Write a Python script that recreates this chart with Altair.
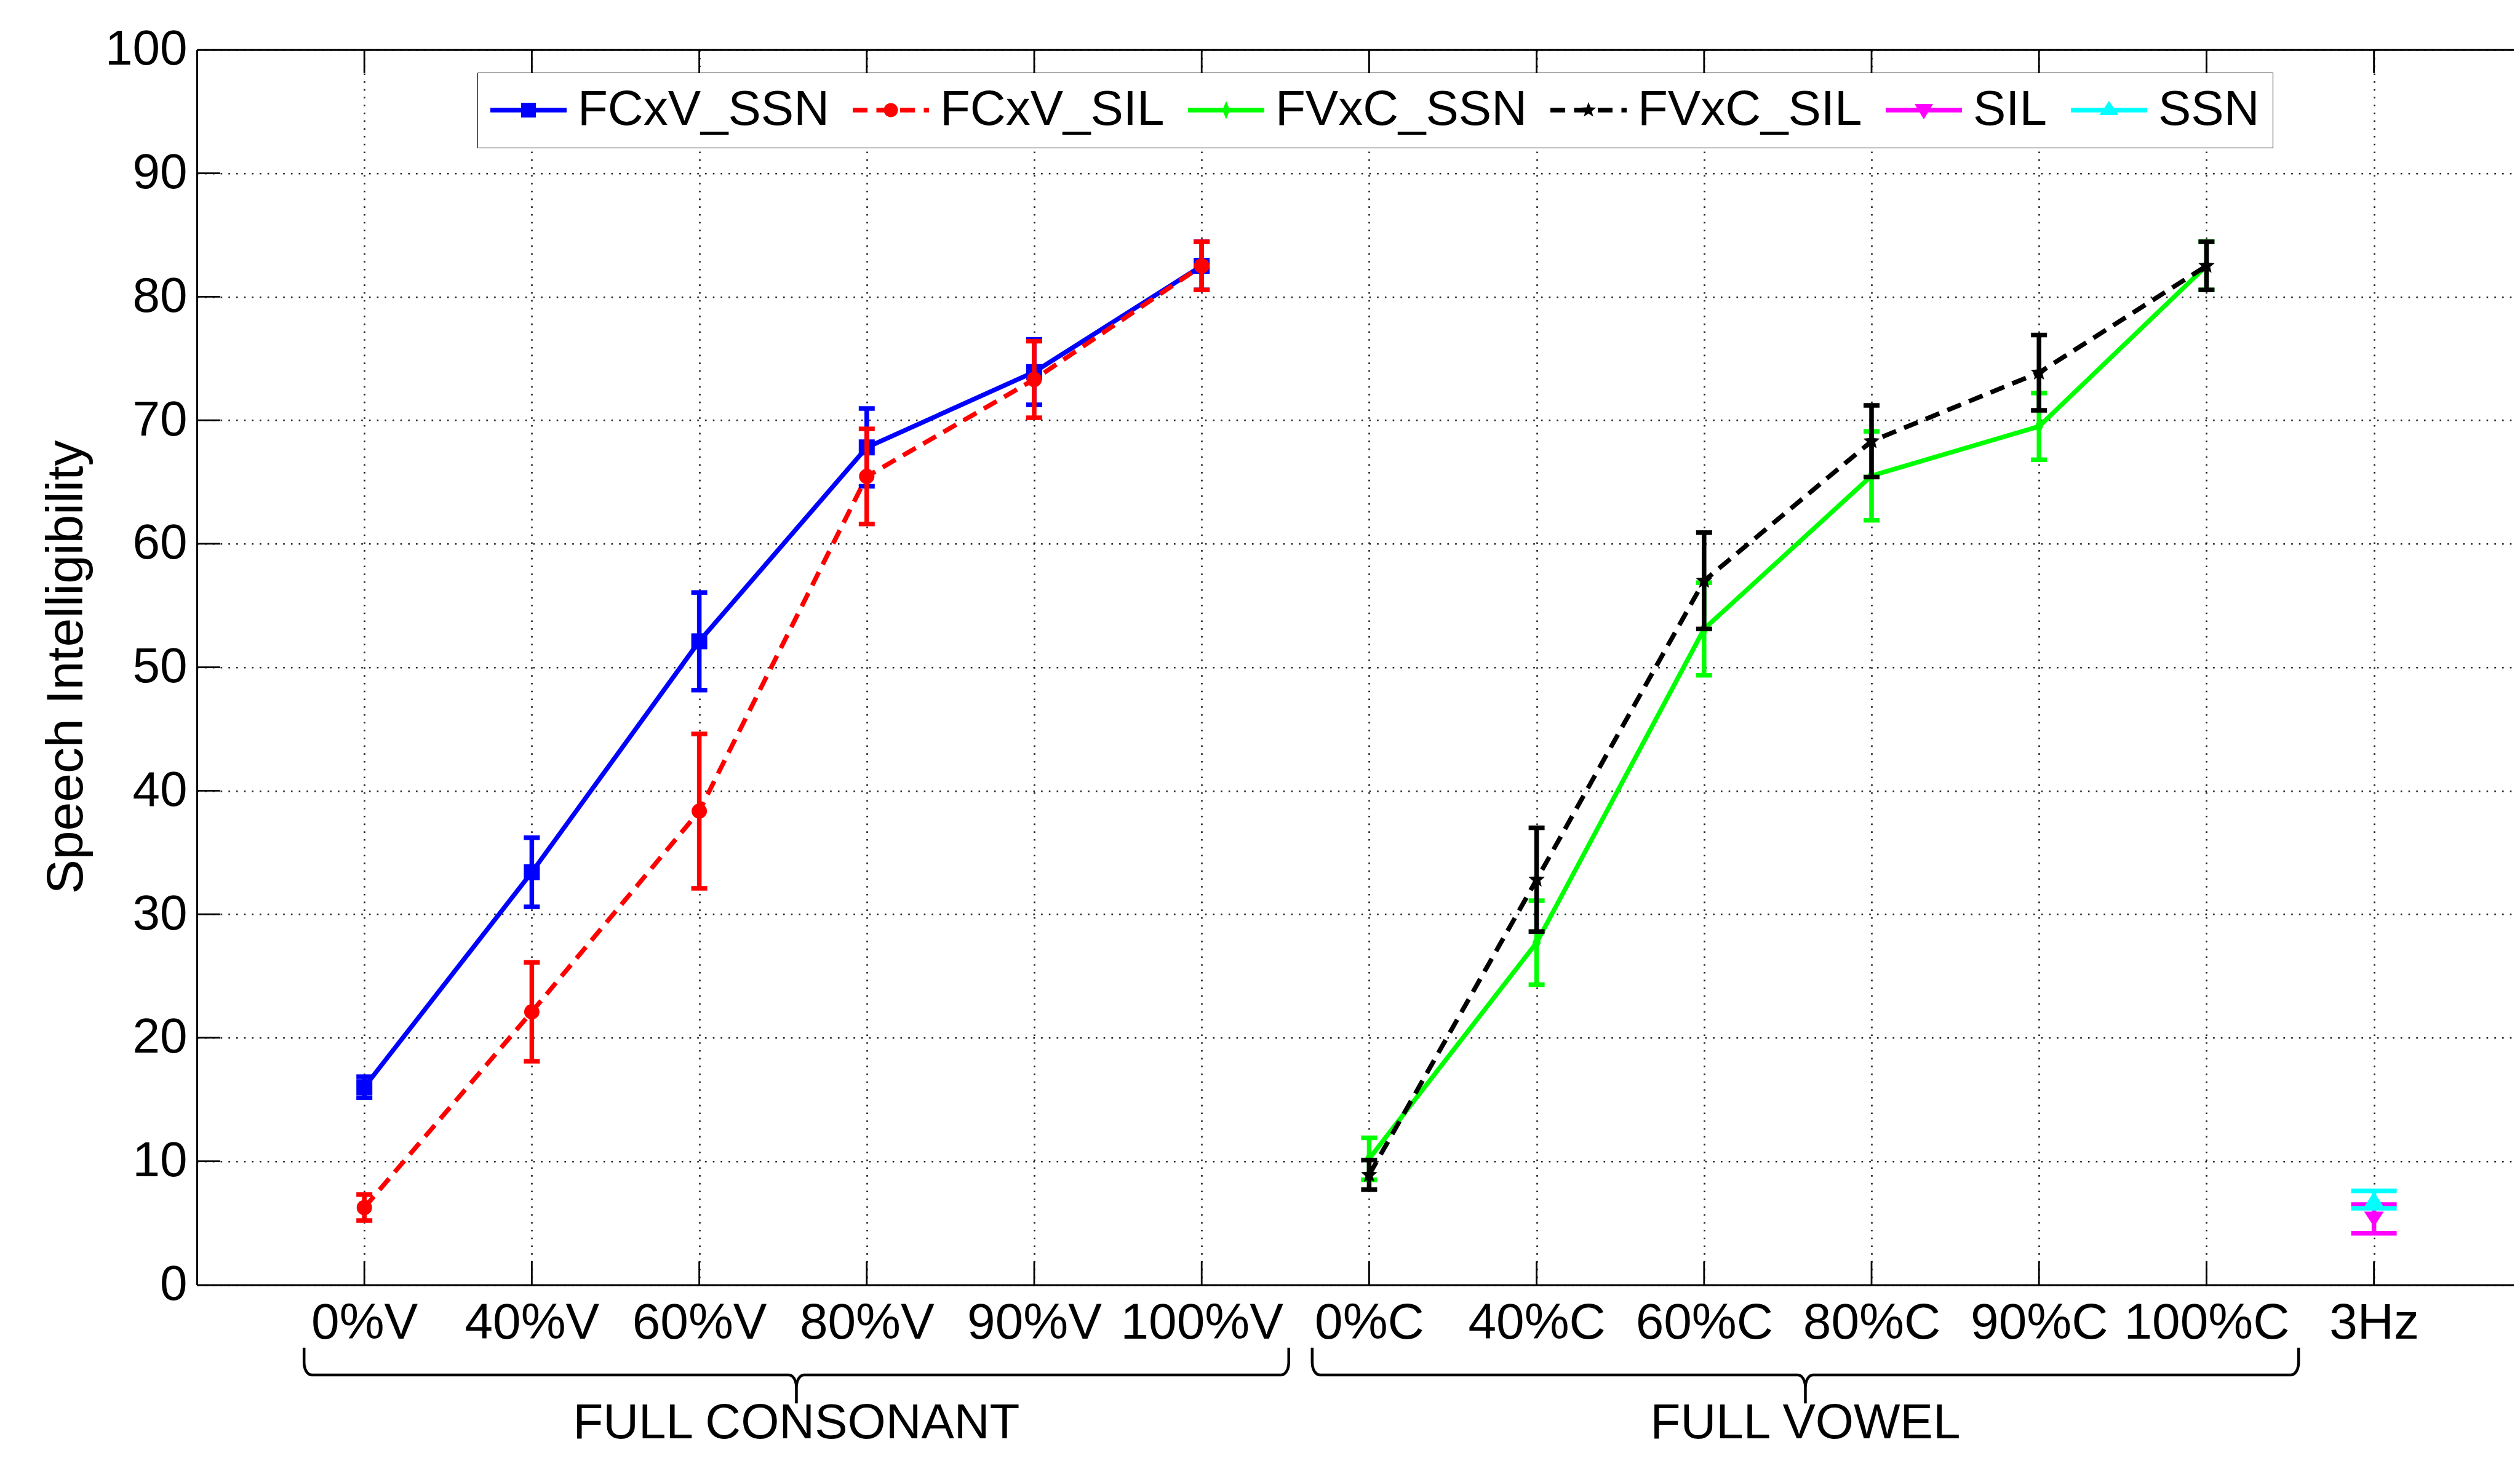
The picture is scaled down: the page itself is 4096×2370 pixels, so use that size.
import json
import math
import altair as alt
import pandas as pd

FONT = "Liberation Sans"

# ---------------- data ----------------
categories = ["0%V", "40%V", "60%V", "80%V", "90%V", "100%V",
              "0%C", "40%C", "60%C", "80%C", "90%C", "100%C", "3Hz"]

series_names = ["FCxV_SSN", "FCxV_SIL", "FVxC_SSN", "FVxC_SIL", "SIL", "SSN"]
series_colors = ["#0000ff", "#ff0000", "#00ff00", "#000000", "#ff00ff", "#00ffff"]

fcxv_ssn_pos = [0, 1, 2, 3, 4, 5]
fcxv_ssn_mean = [16.0, 33.4, 52.1, 67.8, 73.9, 82.5]
fcxv_ssn_err = [0.85, 2.8, 3.95, 3.15, 2.65, 1.95]

fcxv_sil_pos = [0, 1, 2, 3, 4, 5]
fcxv_sil_mean = [6.25, 22.1, 38.35, 65.45, 73.3, 82.5]
fcxv_sil_err = [1.05, 4.0, 6.25, 3.85, 3.1, 1.95]

fvxc_ssn_pos = [6, 7, 8, 9, 10, 11]
fvxc_ssn_mean = [10.2, 27.7, 53.1, 65.5, 69.5, 82.5]
fvxc_ssn_err = [1.7, 3.4, 3.75, 3.6, 2.7, 1.95]

fvxc_sil_pos = [6, 7, 8, 9, 10, 11]
fvxc_sil_mean = [8.9, 32.8, 57.0, 68.3, 73.85, 82.5]
fvxc_sil_err = [1.2, 4.2, 3.9, 2.9, 3.05, 1.95]

sil_pos = [12]
sil_mean = [5.33]
sil_err = [1.16]

ssn_pos = [12]
ssn_mean = [6.9]
ssn_err = [0.7]

y_ticks = [0, 10, 20, 30, 40, 50, 60, 70, 80, 90, 100]

brace_names = ["FULL CONSONANT", "FULL VOWEL"]
brace_left = [-0.36, 5.66]
brace_right = [5.52, 11.55]

# ---------------- layout (window px) ----------------
PLOT_LEFT = 320.0
PLOT_TOP = 80.8
PLOT_H = 2007.6
UNIT = 272.2
PLOT_W = 3766.0
X_MAX = -1 + PLOT_W / UNIT
SVG_H = 2348.0
PAD = {"left": PLOT_LEFT - 8, "top": PLOT_TOP - 8, "right": 0,
       "bottom": SVG_H - (PLOT_TOP - 8) - PLOT_H}

XS = alt.Scale(domain=[-1, X_MAX], nice=False, zero=False)
YS = alt.Scale(domain=[0, 100], nice=False, zero=False)
CS = alt.Scale(domain=series_names, range=series_colors)

GRID = dict(grid=True, gridColor="#222222", gridDash=[2.6, 10.1], gridWidth=2.6, gridOpacity=1)


def star_path(R, r, n=5, cx=0.0, cy=0.0):
    pts = []
    for k in range(2 * n):
        a = -math.pi / 2 + k * math.pi / n
        rad = R if k % 2 == 0 else r
        pts.append((cx + rad * math.cos(a), cy + rad * math.sin(a)))
    return "M" + "L".join(f"{x:.3f},{y:.3f}" for x, y in pts) + "Z"


DIAMOND = "M0,-1L0.45,0L0,1L-0.45,0Z"
STAR = star_path(1.0, 0.45)
TRI_DOWN = "M-1,-0.75L1,-0.75L0,0.8Z"
TRI_UP = "M0,-0.8L1,0.75L-1,0.75Z"

series = [
    dict(name="FCxV_SSN", pos=fcxv_ssn_pos, mean=fcxv_ssn_mean, err=fcxv_ssn_err,
         dash=None, shape="square", size=676, capw=26, line=True),
    dict(name="FCxV_SIL", pos=fcxv_sil_pos, mean=fcxv_sil_mean, err=fcxv_sil_err,
         dash=[24, 14], shape="circle", size=625, capw=26, line=True),
    dict(name="FVxC_SSN", pos=fvxc_ssn_pos, mean=fvxc_ssn_mean, err=fvxc_ssn_err,
         dash=None, shape=DIAMOND, size=900, capw=26, line=True),
    dict(name="FVxC_SIL", pos=fvxc_sil_pos, mean=fvxc_sil_mean, err=fvxc_sil_err,
         dash=[24, 14], shape=STAR, size=784, capw=26, line=True),
    dict(name="SIL", pos=sil_pos, mean=sil_mean, err=sil_err,
         dash=None, shape=TRI_DOWN, size=1024, capw=74, line=False),
    dict(name="SSN", pos=ssn_pos, mean=ssn_mean, err=ssn_err,
         dash=None, shape=TRI_UP, size=1024, capw=74, line=False),
]

rows = []
for s in series:
    for p, m, e in zip(s["pos"], s["mean"], s["err"]):
        rows.append({"series": s["name"], "idx": p, "mean": m, "err": e})
df = pd.DataFrame(rows)

# ---------------- legend symbol paths (units of 10 px) ----------------
T = 0.38


def rect(x0, x1):
    return f"M{x0:.3f},{-T}H{x1:.3f}V{T}H{x0:.3f}Z"


SOLID = rect(-6.2, 6.2)
DASHED = rect(-6.2, -3.8) + rect(-2.35, 0.05) + rect(1.5, 3.9) + rect(5.35, 6.2)
leg_paths = [
    SOLID + "M-1.2,-1.2H1.2V1.2H-1.2Z",
    DASHED + "M-1.15,0A1.15,1.15,0,1,1,1.15,0A1.15,1.15,0,1,1,-1.15,0Z",
    SOLID + "M0,-1.47L0.62,0L0,1.47L-0.62,0Z",
    DASHED + star_path(1.3, 0.55),
    SOLID + "M-1.5,-1.0L1.5,-1.0L0,1.5Z",
    SOLID + "M0,-1.5L1.55,0.8L-1.55,0.8Z",
]

LEGEND = alt.Legend(
    orient="none", legendX=456, legendY=37.2, direction="horizontal", title=None,
    labelFont=FONT, labelFontSize=80, labelColor="black", labelLimit=2000,
    labelOffset=40, symbolSize=400, symbolOffset=22, symbolStrokeWidth=0,
    symbolOpacity=1, columnPadding=38, padding=21, strokeColor="black",
    fillColor="white", cornerRadius=0,
)

# ---------------- axes & frame layers ----------------
label_expr = json.dumps(categories) + "[datum.value]"
x_bottom = alt.Axis(
    orient="bottom", values=list(range(len(categories))), labelExpr=label_expr,
    labelFont=FONT, labelFontSize=82, labelColor="black", labelPadding=22,
    labelBaseline="top", labelAlign="center", labelAngle=0, labelFlush=False,
    labelOverlap=False, labelLimit=2000, ticks=False, tickSize=0, domain=True,
    domainColor="black", domainWidth=3, title=None, **GRID)
x_top = alt.Axis(orient="top", labels=False, ticks=False, grid=False, domain=True,
                 domainColor="black", domainWidth=3, title=None)
y_left = alt.Axis(
    orient="left", values=y_ticks, format="d", labelFont=FONT, labelFontSize=80,
    labelColor="black", labelPadding=16, labelFlush=False, labelOverlap=False,
    labelLimit=2000, ticks=False, tickSize=0, domain=True, domainColor="black",
    domainWidth=3, title="Speech Intelligibility", titleFont=FONT, titleFontSize=84,
    titleFontWeight="normal", titleColor="black", titleAngle=270, titleX=-212,
    titleY=1003, titleAlign="center", titleBaseline="middle", **GRID)

xt_df = pd.DataFrame({"idx": list(range(len(categories)))})
yt_df = pd.DataFrame({"v": y_ticks[1:-1]})

left_ticks = alt.Chart(yt_df).mark_tick(
    orient="horizontal", size=38, thickness=2.8, xOffset=19, color="black", opacity=1
).encode(
    x=alt.X(datum=-1, type="quantitative", scale=XS, axis=None),
    y=alt.Y("v:Q", scale=YS, axis=y_left),
)
bottom_ticks = alt.Chart(xt_df).mark_tick(
    orient="vertical", size=38, thickness=2.8, yOffset=-19, color="black", opacity=1
).encode(
    x=alt.X("idx:Q", scale=XS, axis=x_bottom),
    y=alt.Y(datum=0, type="quantitative", scale=YS, axis=None),
)
top_ticks = alt.Chart(xt_df).mark_tick(
    orient="vertical", size=38, thickness=2.8, yOffset=19, color="black", opacity=1
).encode(
    x=alt.X("idx:Q", scale=XS, axis=x_top),
    y=alt.Y(datum=100, type="quantitative", scale=YS, axis=None),
)

# legend carrier: one clipped, out-of-view point per series whose shape scale holds
# the legend glyphs (line sample + marker)
leg_df = pd.DataFrame({"series": series_names})
legend_layer = alt.Chart(leg_df).mark_point(
    filled=True, size=400, opacity=1, clip=True, strokeWidth=0).encode(
    x=alt.X(datum=-5, type="quantitative", scale=XS, axis=None),
    y=alt.Y(datum=-50, type="quantitative", scale=YS, axis=None),
    color=alt.Color("series:N", scale=CS, legend=LEGEND),
    shape=alt.Shape("series:N", scale=alt.Scale(domain=series_names, range=leg_paths),
                    legend=LEGEND),
)

layers = [left_ticks, bottom_ticks, top_ticks, legend_layer]

# ---------------- series layers ----------------
base = alt.Chart(df).transform_calculate(
    lo="datum.mean - datum.err", hi="datum.mean + datum.err")
for s, col in zip(series, series_colors):
    b = base.transform_filter(alt.datum.series == s["name"])
    xenc = alt.X("idx:Q", scale=XS, axis=None)
    if s["line"]:
        kw = dict(strokeWidth=7.5, opacity=1, color=col)
        if s["dash"]:
            kw["strokeDash"] = s["dash"]
        layers.append(b.mark_line(**kw).encode(
            x=xenc, y=alt.Y("mean:Q", scale=YS, axis=None)))
    layers.append(b.mark_rule(strokeWidth=7.5, opacity=1, color=col).encode(
        x=xenc, y=alt.Y("lo:Q", scale=YS, axis=None), y2="hi:Q"))
    layers.append(b.transform_fold(["lo", "hi"], as_=["which", "yv"]).mark_tick(
        orient="horizontal", size=s["capw"], thickness=7.5, opacity=1, color=col).encode(
        x=xenc, y=alt.Y("yv:Q", scale=YS, axis=None)))
    layers.append(b.mark_point(shape=s["shape"], size=s["size"], filled=True,
                               opacity=1, strokeWidth=0, color=col).encode(
        x=xenc, y=alt.Y("mean:Q", scale=YS, axis=None)))

# ---------------- braces and group labels ----------------
BR_TOP, BR_MID, BR_TIP = -5.1, -7.3, -9.6
A, B = 0.045, 1.0
brace_rows = []
for name, x0, x1 in zip(brace_names, brace_left, brace_right):
    xc = (x0 + x1) / 2
    pts = [(x0, BR_TOP)]
    for k in range(7):
        th = math.pi / 2 * k / 6
        pts.append((x0 + A - A * math.cos(th), BR_MID + B - B * math.sin(th)))
    for k in range(7):
        th = math.pi / 2 * k / 6
        pts.append((xc - A + A * math.sin(th), BR_MID - B + B * math.cos(th)))
    pts.append((xc, BR_TIP))
    for k in range(7):
        th = math.pi / 2 * (6 - k) / 6
        pts.append((xc + A - A * math.sin(th), BR_MID - B + B * math.cos(th)))
    for k in range(7):
        th = math.pi / 2 * (6 - k) / 6
        pts.append((x1 - A + A * math.cos(th), BR_MID + B - B * math.sin(th)))
    pts.append((x1, BR_TOP))
    for i, (bx, by) in enumerate(pts):
        brace_rows.append({"group": name, "o": i, "bx": bx, "by": by})
brace_df = pd.DataFrame(brace_rows)

layers.append(alt.Chart(brace_df).mark_line(color="black", strokeWidth=4.5, opacity=1).encode(
    x=alt.X("bx:Q", scale=XS, axis=None), y=alt.Y("by:Q", scale=YS, axis=None),
    detail="group:N", order="o:Q"))

lab_df = pd.DataFrame({"name": brace_names,
                       "cx": [(a + b) / 2 for a, b in zip(brace_left, brace_right)]})
layers.append(alt.Chart(lab_df).mark_text(
    font=FONT, fontSize=80, color="black", baseline="alphabetic", align="center").encode(
    x=alt.X("cx:Q", scale=XS, axis=None),
    y=alt.Y(datum=-12.45, type="quantitative", scale=YS, axis=None),
    text="name:N"))

chart = alt.layer(*layers).resolve_axis(
    x="independent", y="independent"
).properties(
    width=PLOT_W, height=PLOT_H, padding=PAD,
    autosize=alt.AutoSizeParams(type="none"), background="white",
).configure_view(stroke=None)

chart.save("out.html", embed_options={"renderer": "svg", "actions": False})
